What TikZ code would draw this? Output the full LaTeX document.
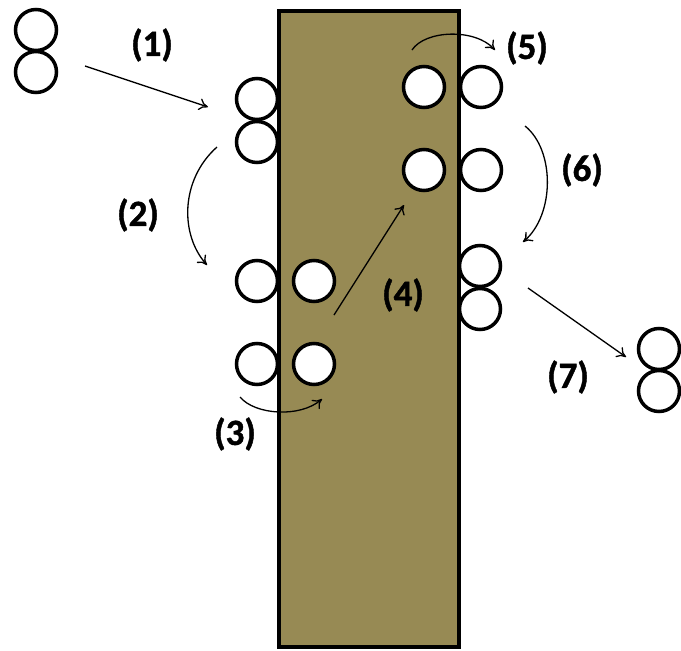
\documentclass[tikz,border=0pt]{standalone}
\usepackage{fontspec}
\setmainfont{Carlito}
\newfontfamily\lblfont{Carlito Bold}[FakeBold=1.2]
\definecolor{slab}{RGB}{151,138,84}
\usetikzlibrary{arrows.meta}
\tikzset{
  ring/.style={circle, draw=black, line width=3.5pt, fill=white, minimum size=41pt, inner sep=0pt},
  flow/.style={line width=1.3pt, -{To[length=9pt,width=12pt]}},
  lbl/.style={font=\lblfont\fontsize{37}{44}\selectfont, inner sep=0pt}
}
\begin{document}
\begin{tikzpicture}[x=1pt,y=-1pt]
\useasboundingbox (0,0) rectangle (681,651);
\draw[fill=slab, line width=4pt] (279,11) rectangle (459,647);
% circles
\node[ring] (a1) at (36,30) {};
\node[ring] (a2) at (36,72) {};
\node[ring] (b1) at (257,99) {};
\node[ring] (b2) at (257,142) {};
\node[ring] (c1) at (257,281) {};
\node[ring] (c2) at (314,281) {};
\node[ring] (d1) at (257,364) {};
\node[ring] (d2) at (314,364) {};
\node[ring] (e1) at (424,87) {};
\node[ring] (e2) at (481,87) {};
\node[ring] (f1) at (424,170) {};
\node[ring] (f2) at (481,170) {};
\node[ring] (g1) at (480,266) {};
\node[ring] (g2) at (480,309) {};
\node[ring] (h1) at (659,349) {};
\node[ring] (h2) at (659,391) {};
% arrow ends
\coordinate (s1) at (85,66);   \coordinate (t1) at (208,107);
\coordinate (s2) at (217,147); \coordinate (t2) at (207,265);
\coordinate (s3) at (240,397); \coordinate (t3) at (322,399);
\coordinate (s4) at (334,315); \coordinate (t4) at (404,205);
\coordinate (s5) at (412,50);  \coordinate (t5) at (495,50);
\coordinate (s6) at (525,126); \coordinate (t6) at (523,242);
\coordinate (s7) at (528,288); \coordinate (t7) at (626,357);
\draw[flow] (s1) -- (t1);
\draw[flow] (s2) .. controls (180,180) and (180,235) .. (t2);
\draw[flow] (s3) .. controls (255,415) and (300,418) .. (t3);
\draw[flow] (s4) -- (t4);
\draw[flow] (s5) .. controls (425,30) and (475,28) .. (t5);
\draw[flow] (s6) .. controls (555,150) and (555,215) .. (t6);
\draw[flow] (s7) -- (t7);
% labels
\node[lbl] (l1) at (152,45) {(1)};
\node[lbl] (l2) at (138,215) {(2)};
\node[lbl] (l3) at (235,434) {(3)};
\node[lbl] (l4) at (403,295) {(4)};
\node[lbl] (l5) at (527,48) {(5)};
\node[lbl] (l6) at (582,170) {(6)};
\node[lbl] (l7) at (568,377) {(7)};
\end{tikzpicture}
\end{document}
